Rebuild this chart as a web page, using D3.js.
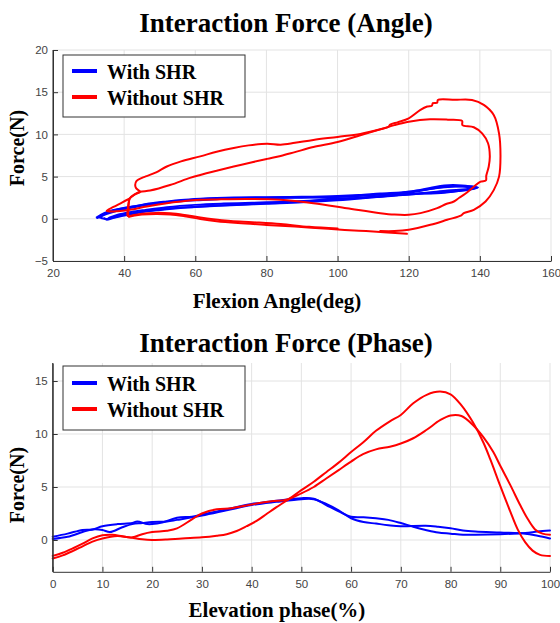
<!DOCTYPE html>
<html>
<head>
<meta charset="utf-8">
<script src="https://cdn.jsdelivr.net/npm/d3@7"></script>
<style>
html,body{margin:0;padding:0;background:#fff;}
svg{display:block;}
</style>
</head>
<body>
<svg id="chart" width="560" height="623"></svg>
<script>
// ---------- DATA ----------
const legendLabels = ["With SHR", "Without SHR"];
const seriesColors = ["#0000ff", "#ff0000"];

// Top chart: Force (N) vs Flexion angle (deg)
const angleTicksX = [20, 40, 60, 80, 100, 120, 140, 160];
const angleTicksY = [-5, 0, 5, 10, 15, 20];

const angleBlue1 = [[32.5,0.1],[34,0.5],[36,0.87],[39,1.2],[42.6,1.46],[47,1.8],[52,2.05],[56,2.22],[61.4,2.37],[66,2.46],[70.8,2.52],[80,2.56],[90,2.6],[100,2.7],[106,2.82],[112,3.0],[120,3.2],[126,3.65],[130,3.95],[135,3.95],[139.2,3.65],[135,3.35],[130,3.1],[120,2.9],[110,2.6],[100,2.3],[90,2.05],[80,1.85],[70.8,1.66],[61.4,1.46],[52,1.14],[46,0.85],[42.6,0.6],[39,0.3],[36.9,0.08],[35,-0.1],[34.5,0.05]];
const angleBlue2 = [[33,0.15],[35,0.55],[38,0.95],[42,1.3],[45,1.55],[50,1.85],[55,2.05],[60,2.2],[65,2.3],[72,2.4],[80,2.45],[90,2.5],[100,2.58],[108,2.75],[115,2.95],[121,3.15],[125,3.45],[129,3.75],[133,3.85],[137,3.75],[138.5,3.6],[134,3.3],[128,3.1],[122,2.95],[115,2.7],[108,2.5],[100,2.35],[92,2.15],[84,2.0],[76,1.9],[68,1.8],[60,1.65],[52,1.38],[46,1.05],[42,0.8],[38,0.45],[36,0.15],[35.2,-0.02],[33.5,0.1]];
const angleBlue3 = [[32.3,0.17],[34.5,0.7],[37,1.05],[41,1.35],[46,1.7],[52,2.0],[60,2.28],[70,2.45],[80,2.5],[90,2.55],[100,2.62],[110,2.85],[118,3.1],[124,3.4],[128,3.65],[132,3.8],[136.5,3.85],[139.5,3.7],[136,3.5],[131,3.35],[125,3.1],[118,2.85],[110,2.55],[100,2.2],[90,1.95],[80,1.78],[70,1.6],[60,1.4],[52,1.2],[45,0.85],[40,0.5],[37,0.2],[35.5,0.0]];

const angleRedA = [[119.5,-1.78],[114,-1.62],[108,-1.45],[102,-1.32],[95,-1.12],[88,-0.92],[80,-0.72],[72,-0.5],[66,-0.28],[61.4,-0.02],[57,0.3],[53,0.52],[49,0.58],[45,0.5],[42.5,0.35],[41.3,0.25],[41.2,0.9],[41.3,1.7],[41.6,2.43],[43,2.9],[44.5,3.2],[47.3,3.35],[52.9,4.0],[58.5,4.85],[61.4,5.2],[66,5.7],[70.8,6.2],[76,6.7],[80.2,7.1],[84,7.45],[88,7.9],[93.2,8.5],[100,9.1],[106.4,9.9],[112,10.6],[114.3,10.9],[114.8,11.15],[117,11.45],[120,11.9],[123.3,12.9],[125.2,13.3],[126.5,13.4],[126.8,13.7],[128,13.75],[128.2,14.08],[133,14.1],[137.8,14.08],[141.1,13.5],[143.9,12.3],[145.4,10.1],[145.8,7.4],[145.4,5.0],[143.9,3.4],[141.6,2.05],[138.3,1.07],[135.5,0.67],[134.8,0.4],[130.8,-0.12],[126.1,-0.71],[120,-1.3],[116,-1.45],[112,-1.45]];
const angleRedB = [[100,-1.15],[92,-0.95],[84,-0.62],[76,-0.4],[70,-0.25],[65,-0.05],[61.4,0.15],[57,0.45],[53,0.65],[49,0.7],[45,0.6],[42.5,0.42],[41.0,0.32],[41.0,1.0],[41.2,1.8],[41.6,2.43],[43,2.9],[44.5,3.2],[43.4,3.6],[43.1,4.0],[43.5,4.5],[45,4.85],[46.3,5.05],[49,5.5],[52,6.2],[56,6.8],[61.4,7.4],[66,7.95],[70.8,8.4],[75,8.7],[80.2,8.9],[84,8.78],[88,9.0],[93.2,9.35],[100,9.7],[106.4,10.05],[112,10.6],[116,11.1],[120,11.5],[126,11.8],[131,11.75],[135,11.6],[135.1,11.1],[138.3,10.85],[140.7,10.1],[142.3,8.95],[142.8,7.4],[142.5,6.2],[141.8,5.1],[141.7,4.55],[140.2,4.4],[138.3,3.8],[136,3.0],[134.2,2.5],[132.7,2.05],[130.5,1.75],[128,1.26],[123.3,0.67],[120,0.47],[116,0.5],[112,0.67],[102.6,1.26],[93.2,1.85],[83.8,2.25],[75,2.35],[66,2.3],[61.4,2.25],[56,2.05],[52,1.85],[46.3,1.46],[41.6,1.06],[36.9,0.87],[35.1,0.96],[37,1.4],[39.5,1.95],[41.6,2.43]];

// Bottom chart: Force (N) vs Elevation phase (%)
const phaseTicksX = [0, 10, 20, 30, 40, 50, 60, 70, 80, 90, 100];
const phaseTicksY = [0, 5, 10, 15];

const phaseBlue1 = [[0,0.3],[3,0.6],[6,0.95],[8,1.0],[10,1.3],[13,1.5],[16,1.6],[17,1.75],[19,1.5],[20,1.5],[22,1.65],[25,2.1],[28,2.2],[30,2.4],[35,2.9],[40,3.4],[45,3.7],[50,3.95],[52.5,3.9],[55,3.3],[57.5,2.7],[60,2.2],[62.5,2.15],[65,2.05],[67.5,1.9],[70,1.6],[72.5,1.25],[75,0.95],[77.5,0.7],[80,0.6],[82.5,0.5],[85,0.5],[90,0.55],[95,0.65],[97.5,0.8],[100,0.9]];
const phaseBlue2 = [[0,0.1],[3,0.3],[6,0.75],[8,1.0],[10,0.95],[11.5,0.75],[14,1.2],[16,1.5],[18,1.6],[20,1.7],[23,1.75],[25,1.9],[30,2.3],[35,2.8],[40,3.3],[45,3.6],[50,3.85],[52.5,3.85],[55,3.4],[57.5,2.8],[60,2.05],[62.5,1.7],[65,1.55],[67.5,1.4],[70,1.3],[75,1.35],[77.5,1.25],[80,1.1],[82.5,0.9],[85,0.8],[90,0.7],[95,0.6],[97.5,0.4],[100,0.15]];
const phaseRed1 = [[0,-1.5],[2,-1.2],[4,-0.8],[6,-0.35],[8,0.15],[10,0.45],[12,0.5],[14,0.35],[16,0.2],[18,0.06],[20,0.0],[23,0.05],[26,0.15],[30,0.25],[33,0.4],[35,0.55],[37,0.85],[39,1.3],[41,1.8],[43,2.45],[45,3.1],[47,3.7],[50,4.7],[52.5,5.5],[55,6.4],[57.5,7.3],[60,8.3],[62.4,9.2],[65,10.3],[67.8,11.2],[70,11.8],[72.5,12.9],[75.2,13.7],[77.9,14.0],[80,13.75],[82.2,12.7],[84.5,11.1],[86.6,9.2],[88,7.6],[90,5.1],[92,2.7],[93.5,1.0],[95,-0.2],[96.5,-1.0],[98,-1.4],[100,-1.5]];
const phaseRed2 = [[0,-1.75],[2,-1.45],[4,-1.05],[6,-0.6],[8,-0.15],[10,0.15],[13,0.38],[16,0.25],[18,0.55],[20,0.75],[23,0.88],[25,1.1],[28,1.95],[30,2.5],[33,2.9],[36,3.0],[40,3.35],[44,3.65],[47,3.8],[50,4.4],[52.5,5.0],[55,5.8],[57.5,6.6],[60,7.4],[62.4,8.1],[65,8.55],[67.8,8.8],[70,9.1],[72.5,9.6],[75.2,10.4],[77.9,11.3],[80,11.75],[82.2,11.7],[84.5,10.85],[86.6,9.7],[88.6,8.3],[90,7.0],[92,5.2],[94,3.3],[95.5,2.0],[97,1.0],[98.5,0.6],[100,0.5]];

// ---------- DRAW ----------
const svg = d3.select("#chart");
const serif = "'Liberation Serif','Times New Roman',serif";
const sans = "'Liberation Sans',Arial,sans-serif";

function panel(cfg) {
  const x = d3.scaleLinear().domain(cfg.xDomain).range(cfg.xRange);
  const y = d3.scaleLinear().domain(cfg.yDomain).range(cfg.yRange);
  const g = svg.append("g");
  const [x0, x1] = cfg.xRange, [y0, y1] = cfg.yRange;

  // grid
  g.append("g").selectAll("line").data(cfg.xTicks).join("line")
    .attr("x1", d => x(d)).attr("x2", d => x(d)).attr("y1", y0).attr("y2", y1)
    .attr("stroke", "#e3e3e3").attr("stroke-width", 1);
  g.append("g").selectAll("line").data(cfg.yTicks).join("line")
    .attr("x1", x0).attr("x2", x1).attr("y1", d => y(d)).attr("y2", d => y(d))
    .attr("stroke", "#e3e3e3").attr("stroke-width", 1);

  // series
  const line = d3.line().x(d => x(d[0])).y(d => y(d[1])).curve(d3.curveCatmullRom.alpha(0.5));
  cfg.series.forEach(s => {
    g.append("path").datum(s.data).attr("d", line)
      .attr("fill", "none").attr("stroke", s.color).attr("stroke-width", 2)
      .attr("stroke-linejoin", "round").attr("stroke-linecap", "round");
  });

  // axes
  const ax = g.append("g").attr("transform", `translate(0,${y0})`)
    .call(d3.axisBottom(x).tickValues(cfg.xTicks).tickSize(-5).tickSizeOuter(0).tickPadding(8).tickFormat(d3.format("d")));
  const ay = g.append("g").attr("transform", `translate(${x0},0)`)
    .call(d3.axisLeft(y).tickValues(cfg.yTicks).tickSize(-5).tickSizeOuter(0).tickPadding(5).tickFormat(d3.format("d")));
  [ax, ay].forEach(a => {
    a.select(".domain").attr("stroke", "#333").attr("stroke-width", 1);
    a.selectAll(".tick line").attr("stroke", "#333");
    a.selectAll(".tick text").attr("fill", "#444").style("font-family", sans).style("font-size", "11.5px");
  });
  // y-range extend line to top of plot
  g.append("line").attr("x1", x0).attr("x2", x0).attr("y1", y0).attr("y2", y1).attr("stroke", "#333");

  // titles
  g.append("text").attr("x", 286).attr("y", cfg.titleY).attr("text-anchor", "middle")
    .style("font-family", serif).style("font-weight", "bold").style("font-size", "27px").attr("fill", "#000").text(cfg.title);
  g.append("text").attr("x", 277).attr("y", cfg.xLabelY).attr("text-anchor", "middle")
    .style("font-family", serif).style("font-weight", "bold").style("font-size", "21px").attr("fill", "#000").text(cfg.xLabel);
  g.append("text").attr("transform", `translate(24,${cfg.yLabelCY}) rotate(-90)`).attr("text-anchor", "middle")
    .style("font-family", serif).style("font-weight", "bold").style("font-size", "20px").attr("fill", "#000").text("Force(N)");

  // legend
  const L = cfg.legend;
  const lg = g.append("g");
  lg.append("rect").attr("x", L.x).attr("y", L.y).attr("width", L.w).attr("height", L.h)
    .attr("fill", "#fff").attr("stroke", "#333").attr("stroke-width", 1);
  legendLabels.forEach((lab, i) => {
    const ly = L.lineY[i];
    lg.append("line").attr("x1", L.x + 9).attr("x2", L.x + 34).attr("y1", ly).attr("y2", ly)
      .attr("stroke", seriesColors[i]).attr("stroke-width", 4);
    lg.append("text").attr("x", L.x + 44).attr("y", ly + 8)
      .style("font-family", serif).style("font-weight", "bold").style("font-size", "20px").attr("fill", "#000").text(lab);
  });
}

panel({
  xDomain: [20, 160], yDomain: [-5, 20], xRange: [53, 551], yRange: [261, 50],
  xTicks: angleTicksX, yTicks: angleTicksY,
  title: "Interaction Force (Angle)", titleY: 32,
  xLabel: "Flexion Angle(deg)", xLabelY: 308, yLabelCY: 148,
  legend: { x: 63, y: 55, w: 182, h: 62, lineY: [71, 97] },
  series: [
    { data: angleBlue1, color: seriesColors[0] },
    { data: angleBlue2, color: seriesColors[0] },
    { data: angleBlue3, color: seriesColors[0] },
    { data: angleRedA, color: seriesColors[1] },
    { data: angleRedB, color: seriesColors[1] }
  ]
});

panel({
  xDomain: [0, 100], yDomain: [-3, 16.7], xRange: [52.7, 550], yRange: [571.8, 363],
  xTicks: phaseTicksX, yTicks: phaseTicksY,
  title: "Interaction Force (Phase)", titleY: 352,
  xLabel: "Elevation phase(%)", xLabelY: 617, yLabelCY: 485,
  legend: { x: 63, y: 366, w: 182, h: 64, lineY: [383, 409] },
  series: [
    { data: phaseBlue1, color: seriesColors[0] },
    { data: phaseBlue2, color: seriesColors[0] },
    { data: phaseRed1, color: seriesColors[1] },
    { data: phaseRed2, color: seriesColors[1] }
  ]
});
</script>
</body>
</html>
